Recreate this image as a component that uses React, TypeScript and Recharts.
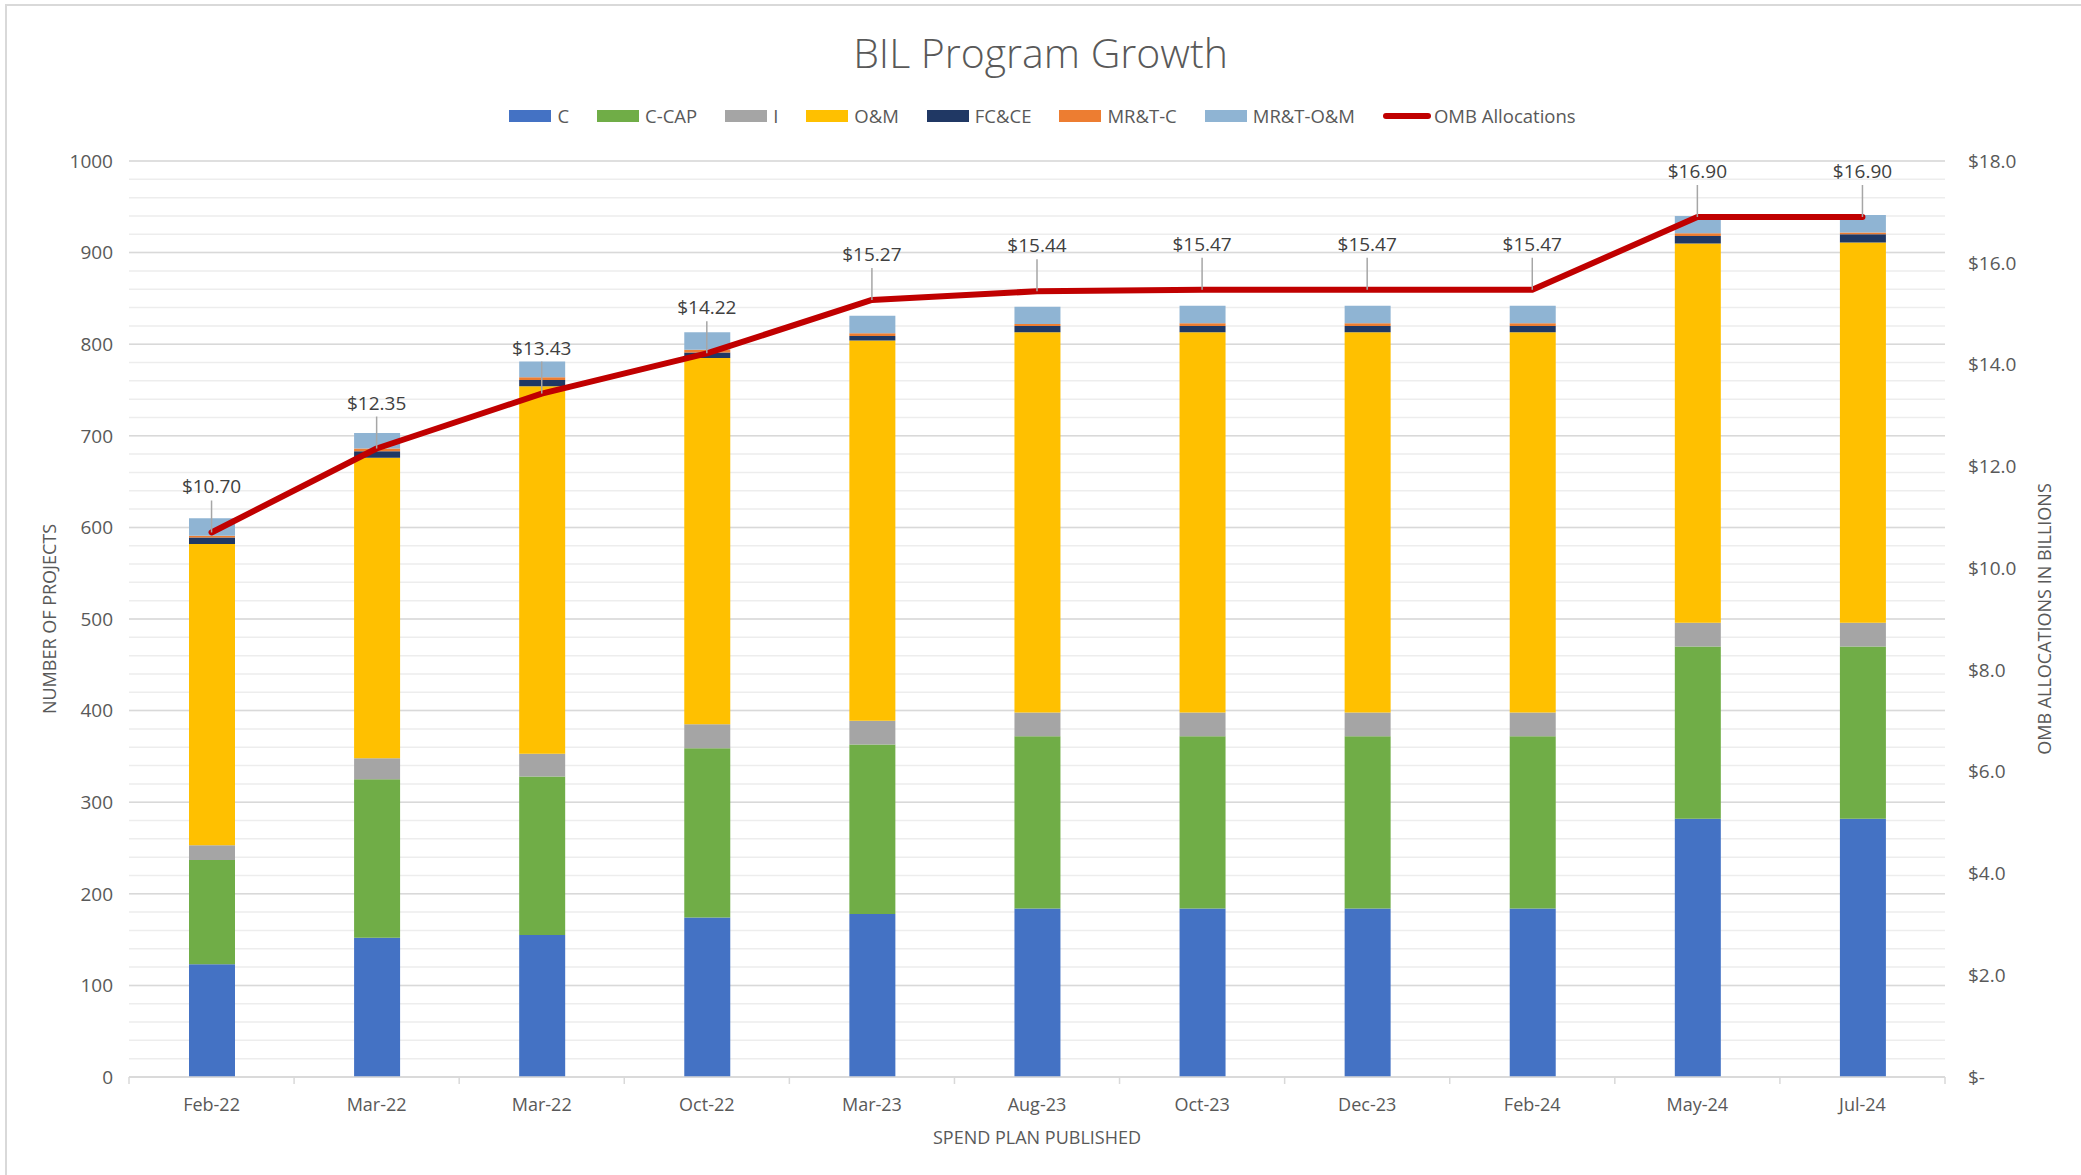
import {
  ComposedChart,
  Bar,
  Line,
  XAxis,
  YAxis,
  CartesianGrid,
  LabelList,
} from "recharts";

const periods = ["Feb-22", "Mar-22", "Mar-22", "Oct-22", "Mar-23", "Aug-23", "Oct-23", "Dec-23", "Feb-24", "May-24", "Jul-24"];
const cVals = [123, 152, 155, 174, 178, 184, 184, 184, 184, 282, 282];
const cCapVals = [114, 173, 173, 185, 185, 188, 188, 188, 188, 188, 188];
const iVals = [16, 23, 25, 26, 26, 26, 26, 26, 26, 26, 26];
const omVals = [329, 328, 401, 400, 415, 415, 415, 415, 415, 414, 415];
const fcceVals = [7, 7, 7, 6, 5, 7, 7, 7, 7, 8, 9];
const mrtCVals = [2, 3, 3, 3, 3, 2, 3, 3, 3, 3, 2];
const mrtOmVals = [19, 17, 17, 19, 19, 19, 19, 19, 19, 19, 19];
const ombVals = [10.7, 12.35, 13.43, 14.22, 15.27, 15.44, 15.47, 15.47, 15.47, 16.9, 16.9];

const leftTicks = [0, 100, 200, 300, 400, 500, 600, 700, 800, 900, 1000];
const minorTicks = Array.from({ length: 51 }, (_, i) => i * 20);
const rightTicks = [0, 2, 4, 6, 8, 10, 12, 14, 16, 18];
const LEFT_MAX = 1000;

const series = [
  { key: "c", name: "C", color: "#4472C4" },
  { key: "cCap", name: "C-CAP", color: "#70AD47" },
  { key: "i", name: "I", color: "#A5A5A5" },
  { key: "om", name: "O&M", color: "#FFC000" },
  { key: "fcce", name: "FC&CE", color: "#203864" },
  { key: "mrtC", name: "MR&T-C", color: "#ED7D31" },
  { key: "mrtOm", name: "MR&T-O&M", color: "#8FB4D3" },
];

const data = periods.map((period, idx) => ({
  period,
  c: cVals[idx],
  cCap: cCapVals[idx],
  i: iVals[idx],
  om: omVals[idx],
  fcce: fcceVals[idx],
  mrtC: mrtCVals[idx],
  mrtOm: mrtOmVals[idx],
  omb: ombVals[idx],
}));

const W = 2081;
const H = 1175;
const PLOT_LEFT = 129;
const PLOT_RIGHT = 1945;
const PLOT_TOP = 161;
const PLOT_BOTTOM = 1077;
const FONT = "'Open Sans', 'Noto Sans', sans-serif";
const TEXT = "#595959";
const halfBand = (PLOT_RIGHT - PLOT_LEFT) / periods.length / 2;

// minor gridlines every 20 projects
const minorLines = (props: any) => {
  const scale = props?.yAxis?.scale;
  if (typeof scale === "function") return minorTicks.map((t) => scale(t));
  if (scale && typeof scale.map === "function") return minorTicks.map((t) => scale.map(t));
  const off = props?.offset ?? { top: PLOT_TOP, height: PLOT_BOTTOM - PLOT_TOP };
  return minorTicks.map((t) => off.top + off.height * (1 - t / LEFT_MAX));
};

const XTick = (props: any) => {
  const { x, y, payload, index } = props;
  return (
    <g>
      <line x1={x - halfBand} x2={x - halfBand} y1={y} y2={y + 7} stroke="#D9D9D9" strokeWidth={1.5} />
      {index === periods.length - 1 && (
        <line x1={x + halfBand} x2={x + halfBand} y1={y} y2={y + 7} stroke="#D9D9D9" strokeWidth={1.5} />
      )}
      <text x={x} y={y + 27} textAnchor="middle" dominantBaseline="central" fontSize={18} fill={TEXT} fontFamily={FONT}>
        {payload.value}
      </text>
    </g>
  );
};

const ombLabel = (props: any) => {
  const { x, y, value } = props;
  return (
    <g>
      <line x1={x} x2={x} y1={y - 32} y2={y} stroke="#A6A6A6" strokeWidth={1.5} />
      <text x={x} y={y - 46} textAnchor="middle" dominantBaseline="central" fontSize={19} fill="#404040" fontFamily={FONT}>
        {`$${Number(value).toFixed(2)}`}
      </text>
    </g>
  );
};

function LegendRow() {
  return (
    <div
      style={{
        position: "absolute",
        top: 103,
        left: 0,
        width: W,
        display: "flex",
        justifyContent: "center",
        alignItems: "center",
        fontFamily: FONT,
        fontSize: 18.5,
        color: TEXT,
        paddingLeft: 2,
      }}
    >
      {series.map((s) => (
        <div key={s.key} style={{ display: "flex", alignItems: "center", marginRight: 28 }}>
          <div style={{ width: 42, height: 12, background: s.color, marginRight: 6 }} />
          <span>{s.name}</span>
        </div>
      ))}
      <div style={{ display: "flex", alignItems: "center" }}>
        <div style={{ width: 48, height: 6, background: "#C00000", borderRadius: 3, marginRight: 3 }} />
        <span>OMB Allocations</span>
      </div>
    </div>
  );
}

export default function App() {
  return (
    <div
      style={{
        position: "absolute",
        left: 0,
        top: 0,
        width: W,
        height: H,
        overflow: "hidden",
        background: "#fff",
        fontFamily: FONT,
      }}
    >
      <div
        style={{
          position: "absolute",
          left: 5,
          top: 4,
          width: W,
          height: H,
          borderTop: "2px solid #D9D9D9",
          borderLeft: "2px solid #D9D9D9",
        }}
      />
      <div
        style={{
          position: "absolute",
          top: 24,
          left: 0,
          width: W,
          textAlign: "center",
          fontSize: 41,
          fontWeight: 300,
          color: TEXT,
        }}
      >
        BIL Program Growth
      </div>
      <LegendRow />

      <ComposedChart
        width={W}
        height={H}
        data={data}
        margin={{ top: PLOT_TOP, right: 0, bottom: 0, left: 0 }}
        style={{ position: "absolute", left: 0, top: 0 }}
      >
        <CartesianGrid
          yAxisId="left"
          vertical={false}
          stroke="#EDEDED"
          strokeWidth={1.5}
          horizontalCoordinatesGenerator={minorLines}
        />
        <CartesianGrid yAxisId="left" vertical={false} stroke="#D9D9D9" strokeWidth={1.5} />
        <XAxis
          dataKey="period"
          height={H - PLOT_BOTTOM}
          tickLine={false}
          tickSize={0}
          tickMargin={0}
          axisLine={{ stroke: "#D9D9D9", strokeWidth: 1.5 }}
          tick={<XTick />}
          interval={0}
        />
        <YAxis
          yAxisId="left"
          width={PLOT_LEFT}
          domain={[0, LEFT_MAX]}
          ticks={leftTicks}
          axisLine={false}
          tickLine={false}
          tickSize={0}
          tickMargin={16}
          tick={{ fontSize: 19, fill: TEXT, fontFamily: FONT }}
        />
        <YAxis
          yAxisId="right"
          orientation="right"
          width={W - PLOT_RIGHT}
          domain={[0, 18]}
          ticks={rightTicks}
          axisLine={false}
          tickLine={false}
          tickSize={0}
          tickMargin={23}
          tickFormatter={(v: number) => (v === 0 ? "$-" : `$${v.toFixed(1)}`)}
          tick={{ fontSize: 19, fill: TEXT, fontFamily: FONT }}
        />
        {series.map((s) => (
          <Bar
            key={s.key}
            yAxisId="left"
            dataKey={s.key}
            name={s.name}
            stackId="a"
            fill={s.color}
            barSize={46}
            isAnimationActive={false}
          />
        ))}
        <Line
          yAxisId="right"
          dataKey="omb"
          name="OMB Allocations"
          stroke="#C00000"
          strokeWidth={6}
          strokeLinecap="round"
          strokeLinejoin="round"
          dot={false}
          activeDot={false}
          isAnimationActive={false}
        >
          <LabelList dataKey="omb" content={ombLabel} />
        </Line>
      </ComposedChart>

      <div
        style={{
          position: "absolute",
          left: 49,
          top: (PLOT_TOP + PLOT_BOTTOM) / 2,
          transform: "translate(-50%, -50%) rotate(-90deg)",
          whiteSpace: "nowrap",
          fontSize: 18,
          color: TEXT,
        }}
      >
        NUMBER OF PROJECTS
      </div>
      <div
        style={{
          position: "absolute",
          left: 2044,
          top: (PLOT_TOP + PLOT_BOTTOM) / 2,
          transform: "translate(-50%, -50%) rotate(-90deg)",
          whiteSpace: "nowrap",
          fontSize: 18,
          color: TEXT,
        }}
      >
        OMB ALLOCATIONS IN BILLIONS
      </div>
      <div
        style={{
          position: "absolute",
          left: 0,
          width: PLOT_LEFT + PLOT_RIGHT,
          top: 1125,
          textAlign: "center",
          fontSize: 18,
          color: TEXT,
        }}
      >
        SPEND PLAN PUBLISHED
      </div>
    </div>
  );
}
